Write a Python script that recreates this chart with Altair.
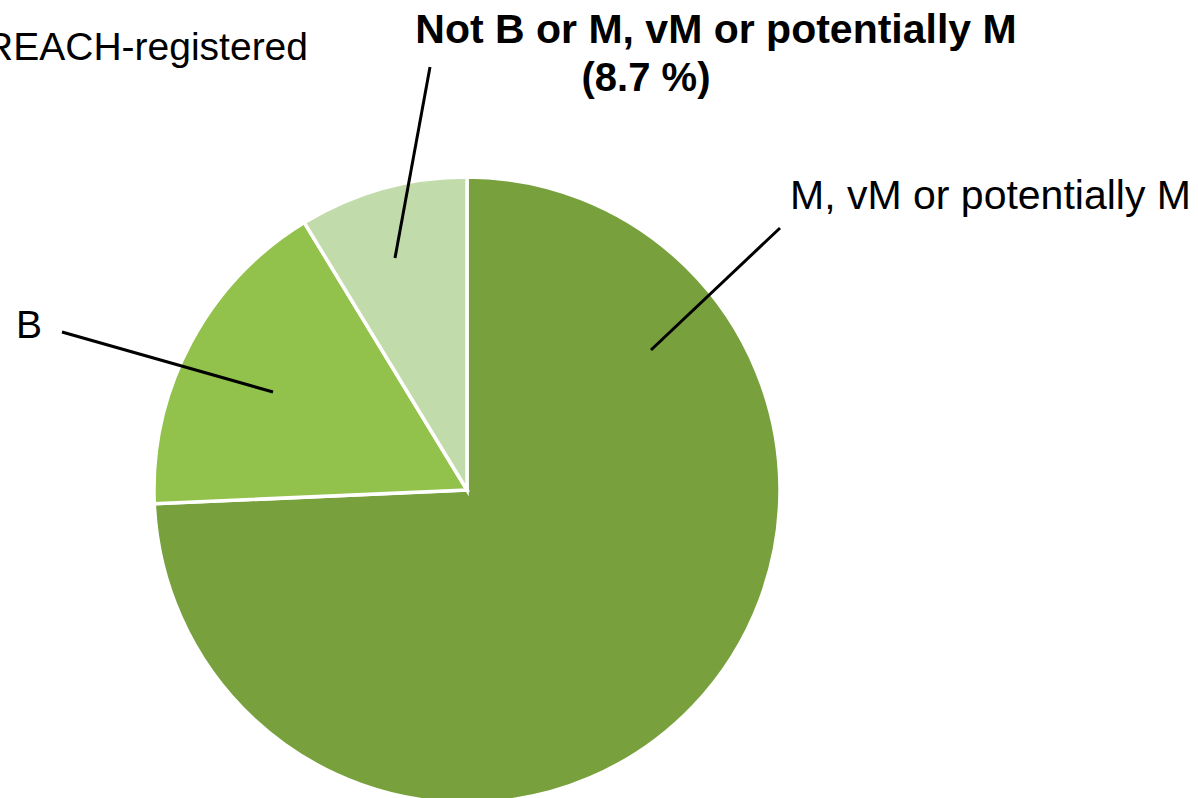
import altair as alt
import pandas as pd

# Share of substances per persistence/mobility class
categories = ["M, vM or potentially M", "B", "Not B or M, vM or potentially M"]
shares = [74.3, 17.0, 8.7]
slice_colors = ["#78A13E", "#92C24C", "#C2DBAB"]

df = pd.DataFrame({"category": categories, "share": shares, "order": [0, 1, 2]})

W, H = 1198, 798
CX, CY, R = 467, 490, 313
FONT = "Liberation Sans"

pie = (
    alt.Chart(df)
    .mark_arc(radius=R, stroke="white", strokeWidth=3.5)
    .encode(
        theta=alt.Theta("share:Q", stack=True),
        order=alt.Order("order:Q"),
        color=alt.Color(
            "category:N",
            scale=alt.Scale(domain=categories, range=slice_colors),
            legend=None,
        ),
        x=alt.value(CX),
        y=alt.value(CY),
    )
)


def leader(x1, y1, x2, y2):
    return alt.Chart(df.head(1)).mark_rule(color="black", strokeWidth=3).encode(
        x=alt.value(x1), y=alt.value(y1), x2=alt.value(x2), y2=alt.value(y2)
    )


def label(text, x, y, align="left", bold=False, size=39):
    return alt.Chart(df.head(1)).mark_text(
        text=text,
        font=FONT,
        fontSize=size,
        fontWeight="bold" if bold else "normal",
        align=align,
        baseline="alphabetic",
        color="black",
    ).encode(x=alt.value(x), y=alt.value(y))


not_pct = shares[2]

chart = alt.layer(
    pie,
    leader(430, 67, 395, 258),
    leader(780, 228, 651, 350),
    leader(62, 332, 273, 392),
    label("M, vM or potentially M", 790, 209, size=41),
    label("B", 16, 338),
    label("REACH-registered", 308, 60, align="right"),
    label(categories[2], 716, 43, align="center", bold=True, size=41),
    label(f"({not_pct} %)", 646, 91, align="center", bold=True, size=40),
).properties(
    width=W,
    height=H,
    autosize=alt.AutoSizeParams(type="none"),
    padding=0,
).configure_view(stroke=None)

chart.save("out.html", embed_options={"renderer": "svg", "actions": False})
